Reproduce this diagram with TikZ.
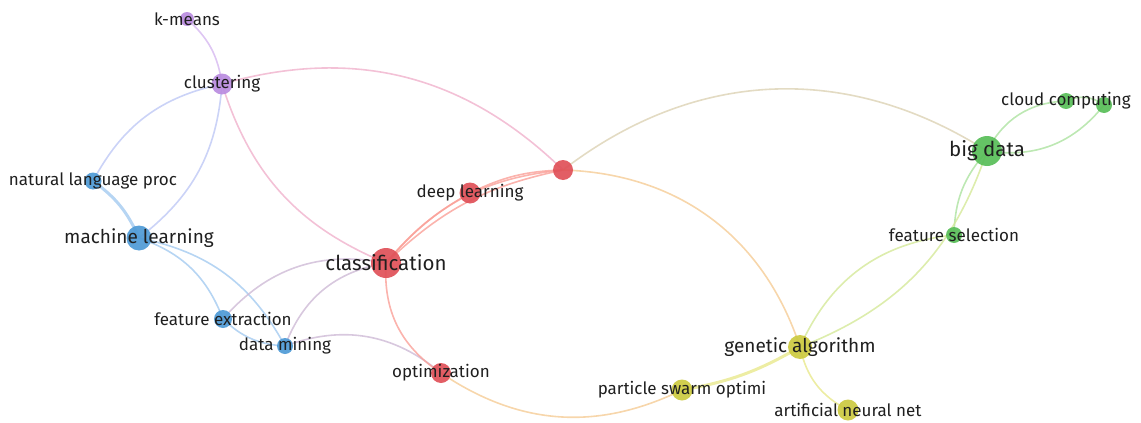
\documentclass[tikz,border=0pt]{standalone}
\usepackage{fontspec}
\setmainfont{Fira Sans}
\usepackage{xcolor}
\usepackage{tikz}
\usetikzlibrary{backgrounds}

% cluster colours
\definecolor{cRed}{RGB}{224,80,88}
\definecolor{cBlue}{RGB}{78,154,214}
\definecolor{cGreen}{RGB}{88,190,88}
\definecolor{cYellow}{RGB}{204,202,64}
\definecolor{cPurple}{RGB}{186,140,224}
% link colours
\definecolor{lPurple}{RGB}{214,184,240}
\definecolor{lPurBlue}{RGB}{190,200,245}
\definecolor{lPurRed}{RGB}{240,178,204}
\definecolor{lBlue}{RGB}{164,202,240}
\definecolor{lBlueRed}{RGB}{206,186,214}
\definecolor{lRed}{RGB}{250,160,152}
\definecolor{lRedYel}{RGB}{245,204,150}
\definecolor{lRedGrn}{RGB}{220,210,180}
\definecolor{lGreen}{RGB}{172,226,160}
\definecolor{lGrnYel}{RGB}{212,232,152}
\definecolor{lYellow}{RGB}{232,232,140}

\begin{document}
\begin{tikzpicture}[x=1pt, y=-1pt,
  kw/.style={circle, inner sep=0pt, fill=#1, fill opacity=0.92},
  lab/.style={text=black!88, inner sep=0pt, font=\fontsize{#1}{#1}\selectfont},
  big/.style={lab=20.5},
  large/.style={lab=19},
  mid/.style={lab=17},
  link/.style={draw=#1, line width=1.6pt, line cap=round, draw opacity=0.8},
  thick link/.style={link=#1, line width=3pt},
]
\useasboundingbox (0,0) rectangle (1141,423);

% keywords
\node[kw=cPurple, minimum size=14pt] (km) at (187,19) {};
\node[kw=cPurple, minimum size=21pt] (cl) at (222,84) {};
\node[kw=cBlue, minimum size=17pt] (nlp) at (93,181) {};
\node[kw=cBlue, minimum size=25pt] (ml) at (139,238) {};
\node[kw=cBlue, minimum size=18pt] (fe) at (223,319) {};
\node[kw=cBlue, minimum size=16pt] (dm) at (285,346) {};
\node[kw=cRed, minimum size=30pt] (cls) at (386,263) {};
\node[kw=cRed, minimum size=21pt] (dl) at (470,193) {};
\node[kw=cRed, minimum size=20pt] (hub) at (563,170) {};
\node[kw=cRed, minimum size=20pt] (opt) at (441,373) {};
\node[kw=cGreen, minimum size=30pt] (bd) at (987,151) {};
\node[kw=cGreen, minimum size=16pt] (cc) at (1066,101) {};
\node[kw=cGreen, minimum size=16pt] (cc2) at (1104,105) {};
\node[kw=cGreen, minimum size=16pt] (fs) at (954,235) {};
\node[kw=cYellow, minimum size=24pt] (ga) at (800,347) {};
\node[kw=cYellow, minimum size=21pt] (pso) at (682,390) {};
\node[kw=cYellow, minimum size=21pt] (ann) at (848,410) {};

% labels
\node[mid] (km-t) at (km) {k-means};
\node[mid] (cl-t) at (cl) {clustering};
\node[mid] (nlp-t) at (nlp) {natural language proc};
\node[large] (ml-t) at (ml) {machine learning};
\node[mid] (fe-t) at (fe) {feature extraction};
\node[mid] (dm-t) at (dm) {data mining};
\node[big] (cls-t) at (cls) {classification};
\node[mid] (dl-t) at (dl) {deep learning};
\node[mid] (opt-t) at (opt) {optimization};
\node[big] (bd-t) at (bd) {big data};
\node[mid] (cc-t) at (cc) {cloud computing};
\node[mid] (fs-t) at (fs) {feature selection};
\node[large] (ga-t) at (ga) {genetic algorithm};
\node[mid] (pso-t) at (pso) {particle swarm optimi};
\node[mid] (ann-t) at (ann) {artificial neural net};

\begin{scope}[on background layer]
% purple cluster
\draw[link=lPurple] (km.center) to[bend left=20] (cl.center);
\draw[link=lPurBlue] (cl.center) to[bend right=25] (nlp.center);
\draw[link=lPurBlue] (cl.center) to[bend left=24] (ml.center);
\draw[link=lPurRed] (cl.center) to[bend right=25] (cls.center);
\draw[link=lPurRed] (cl.center) to[bend left=30] (hub.center);
% blue cluster
\draw[thick link=lBlue] (nlp.center) to[bend left=15] (ml.center);
\draw[link=lBlue] (ml.center) to[bend left=25] (fe.center);
\draw[link=lBlue] (ml.center) to[bend left=25] (dm.center);
\draw[link=lBlue] (fe.center) to[bend right=20] (dm.center);
\draw[link=lBlueRed] (fe.center) to[bend left=30] (cls.center);
\draw[link=lBlueRed] (dm.center) to[bend left=30] (cls.center);
\draw[link=lBlueRed] (dm.center) to[bend left=30] (opt.center);
% red cluster
\draw[link=lRed] (cls.center) to[bend left=10] (dl.center);
\draw[link=lRed] (cls.center) to[bend left=22] (hub.center);
\draw[link=lRed] (cls.center) to[bend left=16] (hub.center);
\draw[link=lRed] (dl.center) to[bend left=12] (hub.center);
\draw[link=lRed] (cls.center) to[bend right=30] (opt.center);
\draw[link=lRedYel] (opt.center) to[bend right=30] (pso.center);
\draw[link=lRedGrn] (hub.center) to[bend left=35] (bd.center);
\draw[link=lRedYel] (hub.center) to[bend left=35] (ga.center);
% green cluster
\draw[link=lGreen] (bd.center) to[bend left=30] (cc.center);
\draw[link=lGreen] (bd.center) to[bend right=30] (cc2.center);
\draw[link=lGreen] (cc.center) to[bend left=30] (cc2.center);
\draw[link=lGreen] (bd.center) to[bend right=20] (fs.center);
\draw[link=lGrnYel] (bd.center) to[bend left=25] (ga.center);
\draw[link=lGrnYel] (fs.center) to[bend right=30] (ga.center);
% yellow cluster
\draw[thick link=lYellow] (ga.center) to[bend left=10] (pso.center);
\draw[link=lYellow] (ga.center) to[bend right=25] (ann.center);
\end{scope}
\end{tikzpicture}
\end{document}
